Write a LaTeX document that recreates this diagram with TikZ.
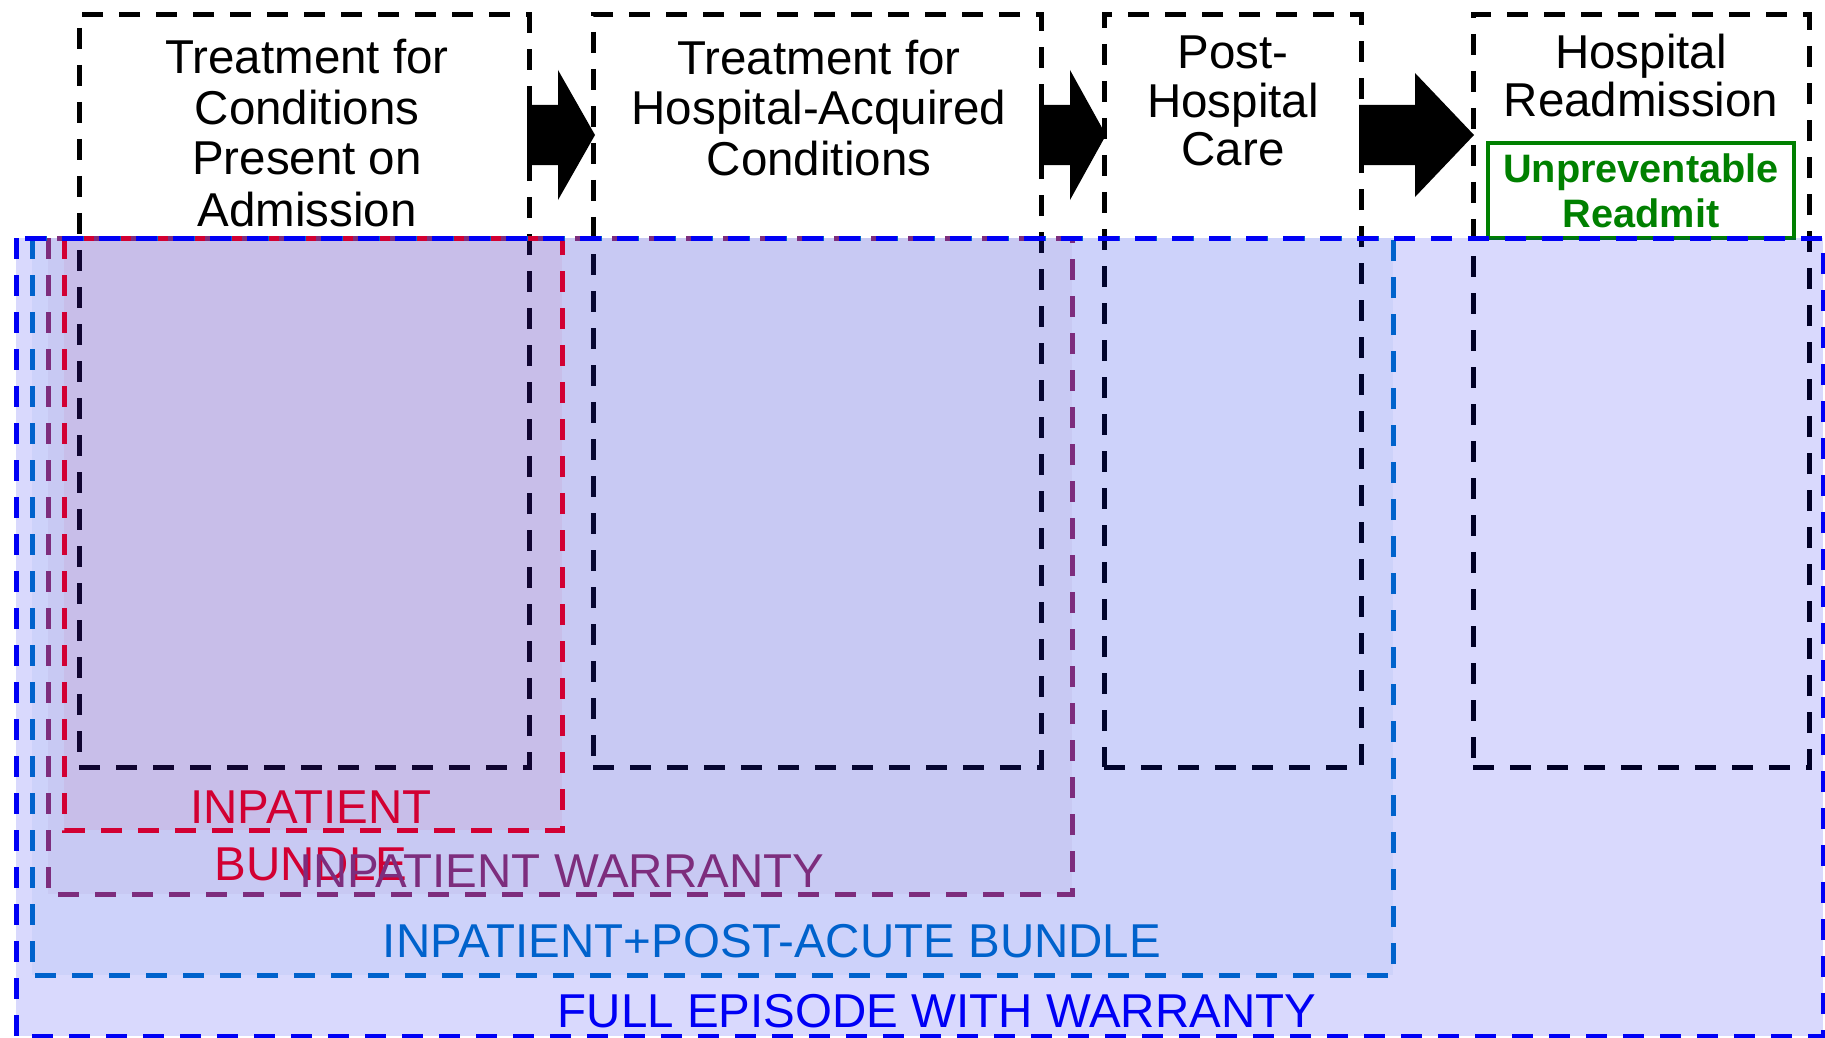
\documentclass[tikz,border=0pt]{standalone}
\usepackage{fontspec}
\setmainfont{Liberation Sans}
\usetikzlibrary{calc}

\definecolor{epblue}{RGB}{0,0,245}
\definecolor{pablue}{RGB}{0,98,204}
\definecolor{iwpurple}{RGB}{125,45,125}
\definecolor{ibred}{RGB}{210,0,50}
\definecolor{urgreen}{RGB}{0,128,0}

\begin{document}
\begin{tikzpicture}[x=0.5pt,y=-0.5pt,
  every node/.style={inner sep=0pt, outer sep=0pt},
  stagebox/.style={draw=black, line width=2.5pt, dash pattern=on 10.5pt off 8pt,
    minimum height=376pt, anchor=north west},
  stagetext/.style={align=center, anchor=base, font=\fontsize{23.75}{25.5}\selectfont},
  framefill/.style={anchor=north west, fill=#1},
  frameline/.style={draw=#1, line width=2.5pt, dash pattern=on 10.5pt off 8pt},
  bandlabel/.style={anchor=base, align=center, text=#1,
    font=\fontsize{23.75}{28.5}\selectfont},
  blockarrow/.style={fill=black}
]
% canvas
\fill[white] (0,0) rectangle (1825,1038);
\useasboundingbox (0,0) rectangle (1825,1038);

% care stages
\node[stagebox, minimum width=225pt]   (b1) at (79,15) {};
\node[stagebox, minimum width=224pt]   (b2) at (593,15) {};
\node[stagebox, minimum width=128.5pt] (b3) at (1104,15) {};
\node[stagebox, minimum width=168pt]   (b4) at (1473,15) {};

% stage titles (placed by the baseline of their last line)
\node[stagetext] (t1) at (307,226) {Treatment for\\Conditions\\Present on\\Admission};
\node[stagetext] (t2) at (819,176) {Treatment for\\Hospital-Acquired\\Conditions};
\node[stagetext, font=\fontsize{23.75}{24}\selectfont] (t3) at (1233,165) {Post-\\Hospital\\Care};
\node[stagetext, font=\fontsize{23.75}{24}\selectfont] (t4) at (1641,117) {Hospital\\Readmission};

% block arrows between stages
\fill[blockarrow] ($(b1.north east)+(-2,90)$) -- ($(b2.north west)+(-35,90)$)
  -- ($(b2.north west)+(-35,55)$) -- ($(b2.north west)+(2,120)$)
  -- ($(b2.north west)+(-35,185)$) -- ($(b2.north west)+(-35,150)$)
  -- ($(b1.north east)+(-2,150)$) -- cycle;
\fill[blockarrow] ($(b2.north east)+(-2,90)$) -- ($(b3.north west)+(-34,90)$)
  -- ($(b3.north west)+(-34,55)$) -- ($(b3.north west)+(2,120)$)
  -- ($(b3.north west)+(-34,185)$) -- ($(b3.north west)+(-34,150)$)
  -- ($(b2.north east)+(-2,150)$) -- cycle;
\fill[blockarrow] ($(b3.north east)+(-2,90)$) -- ($(b4.north west)+(-58,90)$)
  -- ($(b4.north west)+(-58,58)$) -- ($(b4.north west)+(1,120)$)
  -- ($(b4.north west)+(-58,182)$) -- ($(b4.north west)+(-58,150)$)
  -- ($(b3.north east)+(-2,150)$) -- cycle;

% unpreventable readmission
\node[draw=urgreen, line width=2.4pt, minimum width=153pt, minimum height=47.5pt,
  anchor=north west] (ur) at (1488,143) {};
\node[anchor=base, align=center, text=urgreen,
  font=\fontsize{19.85}{22.5}\selectfont\bfseries] (urt) at (1641,227)
  {Unpreventable\\Readmit};

% payment bundles: translucent fills, outermost first
\node[framefill=epblue, fill opacity=0.15, minimum width=903.5pt, minimum height=399pt] (ep) at (16,238) {};
\node[framefill=pablue, fill opacity=0.05, minimum width=680.5pt, minimum height=368.5pt] (pa) at (32,238) {};
\node[framefill=iwpurple, fill opacity=0.05, minimum width=512pt, minimum height=328pt] (iw) at (48,238) {};
\node[framefill=ibred, fill opacity=0.05, minimum width=249pt, minimum height=296pt] (ib) at (64,238) {};

% bundle outlines, innermost first
\draw[frameline=ibred]    (ib.north west) rectangle (ib.south east);
\draw[frameline=iwpurple] (iw.north west) rectangle (iw.south east);
\draw[frameline=pablue]   (pa.north west) rectangle (pa.south east);
\draw[frameline=epblue]   (ep.north west) rectangle (ep.south east);

% bundle labels
\node[bandlabel=ibred]    (ibl) at (311,880) {INPATIENT\\BUNDLE};
\node[bandlabel=iwpurple] (iwl) at (562,887) {INPATIENT WARRANTY};
\node[bandlabel=pablue]   (pal) at (772,957) {INPATIENT+POST-ACUTE BUNDLE};
\node[bandlabel=epblue]   (epl) at (937,1027) {FULL EPISODE WITH WARRANTY};
\end{tikzpicture}
\end{document}
